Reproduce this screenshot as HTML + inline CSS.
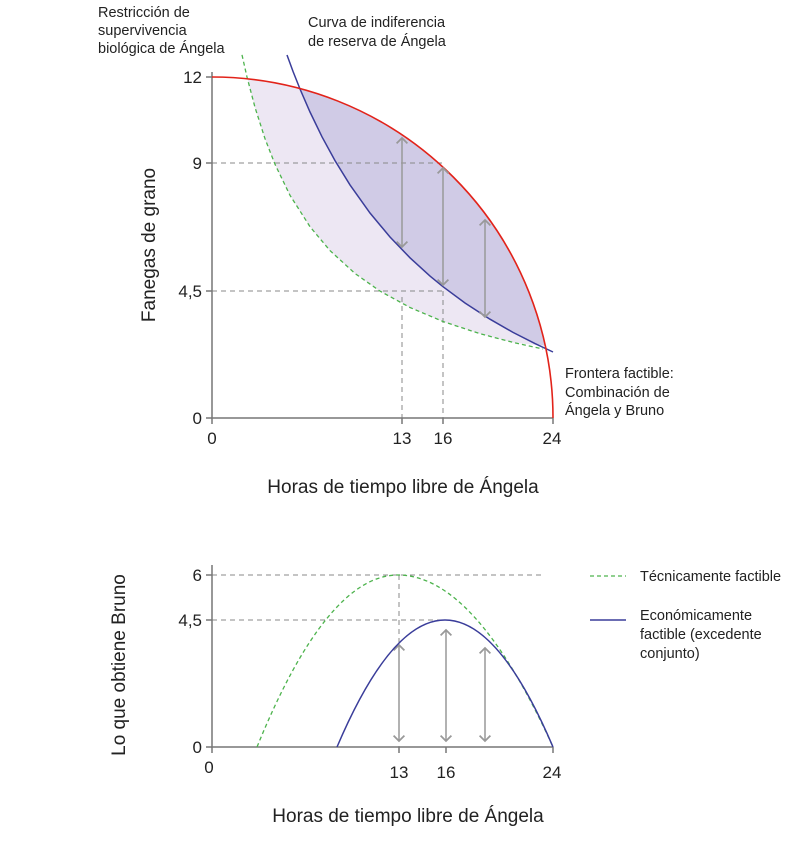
<!DOCTYPE html><html><head><meta charset="utf-8"><style>body{margin:0;background:#fff}svg{display:block}text{font-family:"Liberation Sans",sans-serif;fill:#222}</style></head><body>
<svg width="810" height="842" viewBox="0 0 810 842">
<defs><marker id="a" viewBox="0 0 10 10" refX="5" refY="5" markerWidth="9" markerHeight="9" orient="auto-start-reverse"><path d="M1,1 L5,5 L1,9" fill="none" stroke="#999" stroke-width="1.3"/></marker></defs>
<path d="M247,77 L255,107.4 L265,138.7 L275,164.3 L290,195.3 L310,226.7 L330,250.6 L355,273.5 L380,291.1 L410,307.5 L443,321.5 L480,333.7 L515,342.9 L545.5,346 A341,341 0 0 0 247,78.8 Z" fill="#ede7f3"/>
<path d="M300,89 L310,112 L322,136.8 L335,160.6 L350,184.9 L370,213 L390,237 L410,257.8 L430,276.1 L443,286.7 L465,303 L490,319.2 L513,332.4 L535,343.6 L545.5,346 A341,341 0 0 0 300,89 Z" fill="#d0cbe6"/>
<g stroke="#888" stroke-dasharray="5,4" stroke-width="1">
<line x1="212" y1="163" x2="443" y2="163"/><line x1="212" y1="291" x2="443" y2="291"/>
<line x1="402" y1="297" x2="402" y2="418"/><line x1="443" y1="291" x2="443" y2="418"/>
<line x1="212" y1="575" x2="543" y2="575"/><line x1="212" y1="620" x2="445" y2="620"/>
<line x1="399" y1="575" x2="399" y2="747"/></g>
<g stroke="#777" stroke-width="1.5" fill="none">
<path d="M212,72 L212,418 L553,418"/><path d="M212,565 L212,747 L553,747"/>
<line x1="206" y1="77" x2="212" y2="77"/><line x1="206" y1="163" x2="212" y2="163"/><line x1="206" y1="291" x2="212" y2="291"/><line x1="206" y1="418" x2="212" y2="418"/>
<line x1="212" y1="418" x2="212" y2="424"/><line x1="402" y1="418" x2="402" y2="424"/><line x1="443" y1="418" x2="443" y2="424"/><line x1="553" y1="418" x2="553" y2="424"/>
<line x1="206" y1="575" x2="212" y2="575"/><line x1="206" y1="620" x2="212" y2="620"/><line x1="206" y1="747" x2="212" y2="747"/>
<line x1="212" y1="747" x2="212" y2="753"/><line x1="399" y1="747" x2="399" y2="753"/><line x1="446" y1="747" x2="446" y2="753"/><line x1="553" y1="747" x2="553" y2="753"/></g>
<path d="M242,54.9 L247,77 L255,107.4 L265,138.7 L275,164.3 L290,195.3 L310,226.7 L330,250.6 L355,273.5 L380,291.1 L410,307.5 L443,321.5 L480,333.7 L515,342.9 L543,349" fill="none" stroke="#4db34d" stroke-width="1.3" stroke-dasharray="4,3"/>
<path d="M287,55 L293,71.4 L300,89 L310,112 L322,136.8 L335,160.6 L350,184.9 L370,213 L390,237 L410,257.8 L430,276.1 L443,286.7 L465,303 L490,319.2 L513,332.4 L535,343.6 L553,352" fill="none" stroke="#3a3d9a" stroke-width="1.5"/>
<path d="M212,77 A341,341 0 0 1 553,418" fill="none" stroke="#e2231a" stroke-width="1.6"/>
<g stroke="#999" stroke-width="1.5" marker-start="url(#a)" marker-end="url(#a)">
<line x1="402" y1="138" x2="402" y2="247"/><line x1="443" y1="168" x2="443" y2="285"/><line x1="485" y1="220" x2="485" y2="317"/>
<line x1="399" y1="645" x2="399" y2="741"/><line x1="446" y1="630" x2="446" y2="741"/><line x1="485" y1="648" x2="485" y2="741"/></g>
<path d="M257,747 Q327,575 398,575 Q475,575 553,747" fill="none" stroke="#4db34d" stroke-width="1.3" stroke-dasharray="4,3"/>
<path d="M337,747 Q391,620 445,620 Q499,620 553,747" fill="none" stroke="#3a3d9a" stroke-width="1.5"/>
<line x1="590" y1="576" x2="626" y2="576" stroke="#4db34d" stroke-width="1.3" stroke-dasharray="4,3"/>
<line x1="590" y1="620" x2="626" y2="620" stroke="#3a3d9a" stroke-width="1.5"/>
<g font-size="17" text-anchor="end"><text x="202" y="83">12</text><text x="202" y="169">9</text><text x="202" y="297">4,5</text><text x="202" y="424">0</text>
<text x="202" y="581">6</text><text x="202" y="626">4,5</text><text x="202" y="753">0</text></g>
<g font-size="17" text-anchor="middle"><text x="212" y="444">0</text><text x="402" y="444">13</text><text x="443" y="444">16</text><text x="552" y="444">24</text>
<text x="209" y="773">0</text><text x="399" y="778">13</text><text x="446" y="778">16</text><text x="552" y="778">24</text></g>
<g font-size="19" text-anchor="middle"><text x="403" y="493">Horas de tiempo libre de Ángela</text><text x="408" y="822">Horas de tiempo libre de Ángela</text>
<text transform="translate(155,245) rotate(-90)">Fanegas de grano</text><text transform="translate(125,665) rotate(-90)">Lo que obtiene Bruno</text></g>
<g font-size="14.5"><text x="98" y="17">Restricción de</text><text x="98" y="35">supervivencia</text><text x="98" y="53">biológica de Ángela</text>
<text x="308" y="27">Curva de indiferencia</text><text x="308" y="46">de reserva de Ángela</text>
<text x="565" y="378">Frontera factible:</text><text x="565" y="397">Combinación de</text><text x="565" y="415">Ángela y Bruno</text>
<text x="640" y="581">Técnicamente factible</text><text x="640" y="620">Económicamente</text><text x="640" y="639">factible (excedente</text><text x="640" y="658">conjunto)</text></g>
</svg></body></html>
